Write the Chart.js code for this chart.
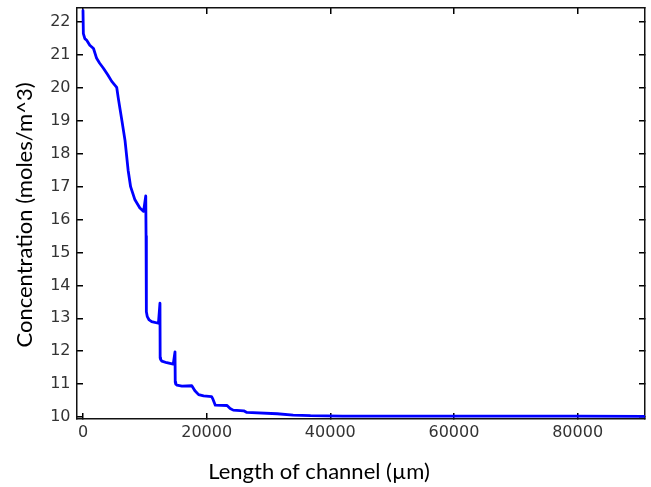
<!DOCTYPE html>
<html>
<head>
<meta charset="utf-8">
<script src="https://cdn.jsdelivr.net/npm/chart.js@4.4.1/dist/chart.umd.min.js"></script>
<style>
  body { margin: 0; background: #fff; }
  #wrap { width: 651px; height: 487px; }
</style>
</head>
<body>
<div id="wrap"><canvas id="chart" width="651" height="487"></canvas></div>
<script>
// channel position (µm)
const lengthUm = [0, 60, 300, 600, 1100, 1700, 2200, 2700, 3300, 4000, 4650, 5450, 5700, 6000, 6300,
  6800, 7300, 7700, 8400, 9200, 9800, 10150, 10200, 10250, 10400, 10700, 11100, 12200, 12450, 12480,
  12550, 12750, 13550, 14600, 14880, 14920, 15000, 15200, 16000, 17600, 18100, 18700, 19500, 20800,
  21000, 21400, 23300, 23800, 24300, 26000, 26500, 31400, 34000, 36800, 42000, 50000, 60000, 70000,
  80000, 90700];
// concentration (moles/m^3)
const concentration = [22.35, 21.65, 21.5, 21.45, 21.3, 21.2, 20.9, 20.75, 20.6, 20.4, 20.2, 20.02, 19.7, 19.35, 19.0,
  18.4, 17.5, 17.0, 16.6, 16.35, 16.25, 16.72, 15.5, 13.2, 13.05, 12.95, 12.9, 12.85, 13.46, 11.8,
  11.75, 11.7, 11.65, 11.61, 11.98, 11.06, 11.0, 10.97, 10.94, 10.95, 10.8, 10.68, 10.64, 10.62,
  10.55, 10.36, 10.35, 10.26, 10.21, 10.19, 10.14, 10.1, 10.06, 10.04, 10.03, 10.03, 10.03, 10.03,
  10.03, 10.02];

const xTicks = [0, 20000, 40000, 60000, 80000];
const yTicks = [10, 11, 12, 13, 14, 15, 16, 17, 18, 19, 20, 21, 22];

const xTitle = 'Length of channel (µm)';
const yTitle = 'Concentration (moles/m^3)';

const points = lengthUm.map((x, i) => ({ x: x, y: concentration[i] }));

const xRange = { min: -970, max: 90900 };
const yRange = { min: 9.94, max: 22.43 };

// axis titles drawn by hand so they sit where the original has them
const axisTitles = {
  id: 'axisTitles',
  afterDraw(chart) {
    const ctx = chart.ctx;
    ctx.save();
    ctx.fillStyle = '#000';
    ctx.font = '22px Lato';
    ctx.textAlign = 'center';
    ctx.textBaseline = 'alphabetic';
    ctx.fillText(xTitle, 319, 479);
    ctx.translate(32, 215);
    ctx.rotate(-Math.PI / 2);
    ctx.fillText(yTitle, 0, 0);
    ctx.restore();
  }
};

const whiteBg = {
  id: 'whiteBg',
  beforeDraw(chart) {
    const ctx = chart.ctx;
    ctx.save();
    ctx.fillStyle = '#fff';
    ctx.fillRect(0, 0, chart.width, chart.height);
    ctx.restore();
  }
};

const tickFont = { family: 'DejaVu Sans', size: 16 };
const gridOpts = { drawOnChartArea: false, color: '#000', lineWidth: 1.5, tickLength: -6 };
const borderOpts = { color: '#111', width: 1.5 };

const setTicks = list => s => { s.ticks = list.map(v => ({ value: v })); };
// fixed box sizes, and no extra room reserved for half labels at the ends
const fixSize = (w, h) => s => {
  if (w !== null) s.width = w;
  if (h !== null) s.height = h;
  s.paddingTop = 0; s.paddingBottom = 0; s.paddingLeft = 0; s.paddingRight = 0;
};

new Chart(document.getElementById('chart'), {
  type: 'line',
  data: {
    datasets: [{
      data: points,
      borderColor: '#0000ff',
      borderWidth: 2.8,
      borderJoinStyle: 'round',
      borderCapStyle: 'round',
      pointRadius: 0,
      tension: 0,
      fill: false
    }]
  },
  options: {
    responsive: false,
    animation: false,
    layout: { padding: 0 },
    plugins: { legend: { display: false }, tooltip: { enabled: false } },
    scales: {
      x: {
        type: 'linear', position: 'bottom',
        min: xRange.min, max: xRange.max,
        grid: gridOpts, border: borderOpts,
        ticks: {
          padding: 10, maxRotation: 0, autoSkip: false,
          color: '#333', font: tickFont,
          callback: v => String(v)
        },
        afterBuildTicks: setTicks(xTicks),
        afterFit: fixSize(null, 68)
      },
      x2: {
        type: 'linear', position: 'top',
        min: xRange.min, max: xRange.max,
        grid: gridOpts, border: borderOpts,
        ticks: { display: false },
        afterBuildTicks: setTicks(xTicks),
        afterFit: fixSize(null, 8)
      },
      y: {
        type: 'linear', position: 'left',
        min: yRange.min, max: yRange.max,
        grid: gridOpts, border: borderOpts,
        ticks: {
          padding: 12.5, autoSkip: false,
          color: '#333', font: tickFont,
          callback: v => String(v)
        },
        afterBuildTicks: setTicks(yTicks),
        afterFit: fixSize(77, null)
      },
      y2: {
        type: 'linear', position: 'right',
        min: yRange.min, max: yRange.max,
        grid: gridOpts, border: borderOpts,
        ticks: { display: false },
        afterBuildTicks: setTicks(yTicks),
        afterFit: fixSize(6, null)
      }
    }
  },
  plugins: [whiteBg, axisTitles]
});
</script>
</body>
</html>
